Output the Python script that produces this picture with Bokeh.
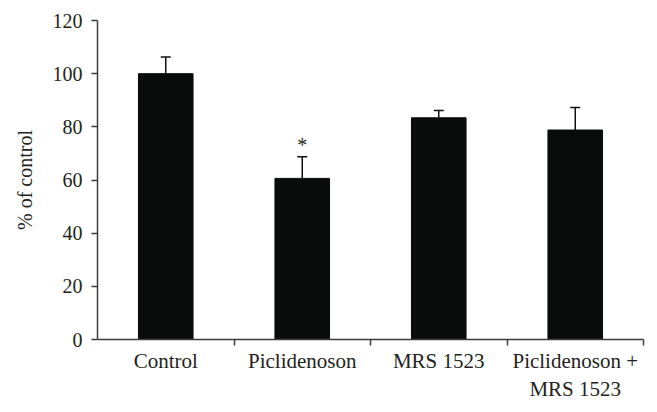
from bokeh.plotting import figure
from bokeh.models import Range1d, FixedTicker, ColumnDataSource, Whisker, TeeHead
from bokeh.core.properties import value
from bokeh.embed import file_html
from bokeh.resources import INLINE

categories = ["Control", "Piclidenoson", "MRS 1523", "Piclidenoson +\nMRS 1523"]
means = [100.0, 60.6, 83.4, 78.8]
errors = [6.3, 8.1, 2.7, 8.5]
marks = ["", "*", "", ""]
y_ticks = [0, 20, 40, 60, 80, 100, 120]

xs = [i + 0.5 for i in range(len(categories))]
uppers = [m + e for m, e in zip(means, errors)]

src = ColumnDataSource(dict(x=xs, top=means, upper=uppers, mark=marks))

FONT = "'Liberation Serif', 'DejaVu Serif', serif"
TXT = "#231f20"
AX = "#3c3c3c"

p = figure(width=649, height=404, output_backend="svg", toolbar_location=None,
           x_range=Range1d(0, len(categories)), y_range=Range1d(0, 120),
           min_border_left=97, min_border_right=6, min_border_top=20, min_border_bottom=63)
p.outline_line_color = None
p.grid.visible = False
p.background_fill_color = "white"
p.border_fill_color = "white"

p.vbar(x="x", top="top", width=0.4, bottom=0, source=src,
       fill_color="#0a0c0b", line_color="#0a0c0b")

w = Whisker(base="x", lower="top", upper="upper", source=src, dimension="height",
            line_color="#111111", line_width=1.5, lower_head=None,
            upper_head=TeeHead(size=10, line_color="#111111", line_width=1.5))
p.add_layout(w)

p.text(x="x", y="upper", text="mark", source=src, text_align="center",
       text_baseline="alphabetic", y_offset=-12, text_font=value(FONT),
       text_font_size="20px", text_color=TXT)

# y axis
ya = p.yaxis[0]
ya.ticker = FixedTicker(ticks=y_ticks)
ya.axis_label = "% of control"
ya.axis_label_text_font = FONT
ya.axis_label_text_font_style = "normal"
ya.axis_label_text_font_size = "20px"
ya.axis_label_text_color = TXT
ya.axis_label_standoff = 14
ya.major_label_text_font = FONT
ya.major_label_text_font_size = "20px"
ya.major_label_text_color = TXT
ya.major_label_standoff = 9
ya.major_tick_out = 6
ya.major_tick_in = 0
ya.minor_tick_out = 0
ya.minor_tick_in = 0
ya.axis_line_color = AX
ya.axis_line_width = 1.5
ya.major_tick_line_color = AX
ya.major_tick_line_width = 1.5

# x axis
xa = p.xaxis[0]
xa.ticker = FixedTicker(ticks=xs, minor_ticks=list(range(1, len(categories) + 1)))
xa.major_label_overrides = {x: c for x, c in zip(xs, categories)}
xa.major_label_text_font = FONT
xa.major_label_text_font_size = "21px"
xa.major_label_text_color = TXT
xa.major_label_standoff = 3
xa.major_tick_out = 0
xa.major_tick_in = 0
xa.minor_tick_out = 6
xa.minor_tick_in = 0
xa.minor_tick_line_color = AX
xa.minor_tick_line_width = 1.5
xa.axis_line_color = AX
xa.axis_line_width = 1.5

open("out.html", "w").write(file_html(p, INLINE))
